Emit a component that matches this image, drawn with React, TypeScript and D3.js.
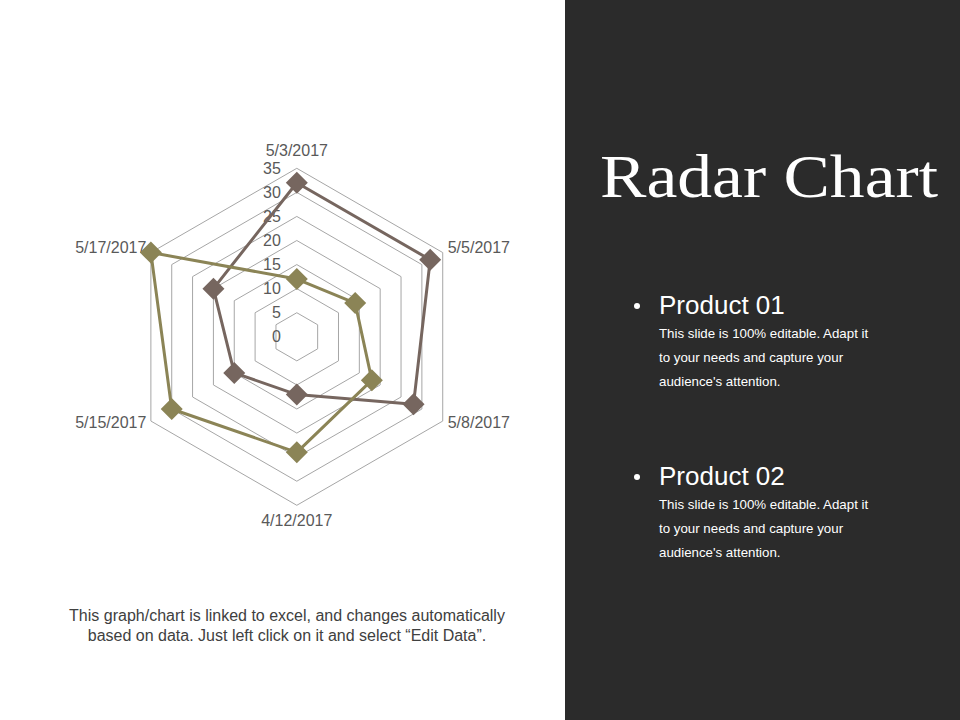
import React from "react";
import * as d3 from "d3";

const categories = ["5/3/2017", "5/5/2017", "5/8/2017", "4/12/2017", "5/15/2017", "5/17/2017"];
const product01 = [32, 32, 28, 12, 15, 20];
const product02 = [12, 14, 18, 24, 30, 35];
const ticks = [0, 5, 10, 15, 20, 25, 30, 35];
const seriesNames = ["Product 01", "Product 02"];
const bodyLines = ["This slide is 100% editable. Adapt it", "to your needs and capture your", "audience's attention."];
const captionLines = [
  "This graph/chart is linked to excel, and changes automatically",
  "based on data. Just left click on it and select \u201CEdit Data\u201D.",
];

const BROWN = "#76665f";
const OLIVE = "#8b8456";

export default function App() {
  const cx = 296.8;
  const cy = 336.8;
  const R = 168.5;
  const r = d3.scaleLinear().domain([0, 35]).range([0, R]);
  const angle = d3
    .scalePoint<string>()
    .domain(categories)
    .range([0, (2 * Math.PI * (categories.length - 1)) / categories.length]);

  const pt = (cat: string, v: number): [number, number] => {
    const a = angle(cat)!;
    return [cx + r(v) * Math.sin(a), cy - r(v) * Math.cos(a)];
  };

  const lineGen = d3.line<[number, number]>().curve(d3.curveLinearClosed);

  const rings = ticks.filter((t) => t > 0).map((t) => lineGen(categories.map((c) => pt(c, t)))!);

  const series = [
    { name: seriesNames[0], values: product01, color: BROWN },
    { name: seriesNames[1], values: product02, color: OLIVE },
  ];

  const labelFont = "Liberation Sans, Arial, sans-serif";

  const catLabel = (c: string, i: number) => {
    const a = angle(c)!;
    const [x, y] = pt(c, 35);
    const s = Math.sin(a);
    let anchor: "start" | "middle" | "end" = "middle";
    let dx = 0;
    let dy = 0;
    if (Math.abs(s) < 0.01) {
      dy = Math.cos(a) > 0 ? -12 : 21;
    } else if (s > 0) {
      anchor = "start";
      dx = 5;
      dy = Math.cos(a) > 0 ? 0 : 7;
    } else {
      anchor = "end";
      dx = -4.5;
      dy = Math.cos(a) > 0 ? 0 : 7;
    }
    return (
      <text key={i} x={x + dx} y={y + dy} textAnchor={anchor} fontSize={16} fill="#595959" fontFamily={labelFont}>
        {c}
      </text>
    );
  };

  const ms = 11;
  const diamond = (x: number, y: number) => `M${x},${y - ms}L${x + ms},${y}L${x},${y + ms}L${x - ms},${y}Z`;

  return (
    <svg width={960} height={720} style={{ position: "absolute", left: 0, top: 0 }}>
      <rect x={0} y={0} width={960} height={720} fill="#ffffff" />
      <rect x={565} y={0} width={395} height={720} fill="#2b2b2b" />

      {rings.map((d, i) => (
        <path key={i} d={d} fill="none" stroke="#a6a6a6" strokeWidth={1} />
      ))}

      {ticks.map((t) => (
        <text
          key={t}
          x={cx - 16}
          y={cy - r(t)}
          dy="0.35em"
          textAnchor="end"
          fontSize={16}
          fill="#595959"
          fontFamily={labelFont}
        >
          {t}
        </text>
      ))}

      {categories.map((c, i) => catLabel(c, i))}

      {series.map((s) => {
        const pts = categories.map((c, i) => pt(c, s.values[i]));
        return (
          <g key={s.name}>
            <path d={lineGen(pts)!} fill="none" stroke={s.color} strokeWidth={3} strokeLinejoin="round" />
            {pts.map(([x, y], i) => (
              <path key={i} d={diamond(x, y)} fill={s.color} />
            ))}
          </g>
        );
      })}

      {captionLines.map((l, i) => (
        <text key={i} x={287} y={621 + i * 20} textAnchor="middle" fontSize={16} fill="#404040" fontFamily={labelFont}>
          {l}
        </text>
      ))}

      <text x={600} y={197} fontSize={62} fill="#ffffff" fontFamily="Liberation Serif, Times New Roman, serif" textLength={338} lengthAdjust="spacingAndGlyphs">
        Radar Chart
      </text>

      {seriesNames.map((n, k) => {
        const base = 314 + k * 171;
        return (
          <g key={n}>
            <circle cx={637} cy={base - 8} r={3} fill="#ffffff" />
            <text x={659} y={base} fontSize={26} fill="#ffffff" fontFamily={labelFont}>
              {n}
            </text>
            {bodyLines.map((l, i) => (
              <text key={i} x={659} y={base + 24 + i * 24} fontSize={13.3} fill="#ffffff" fontFamily={labelFont}>
                {l}
              </text>
            ))}
          </g>
        );
      })}
    </svg>
  );
}
